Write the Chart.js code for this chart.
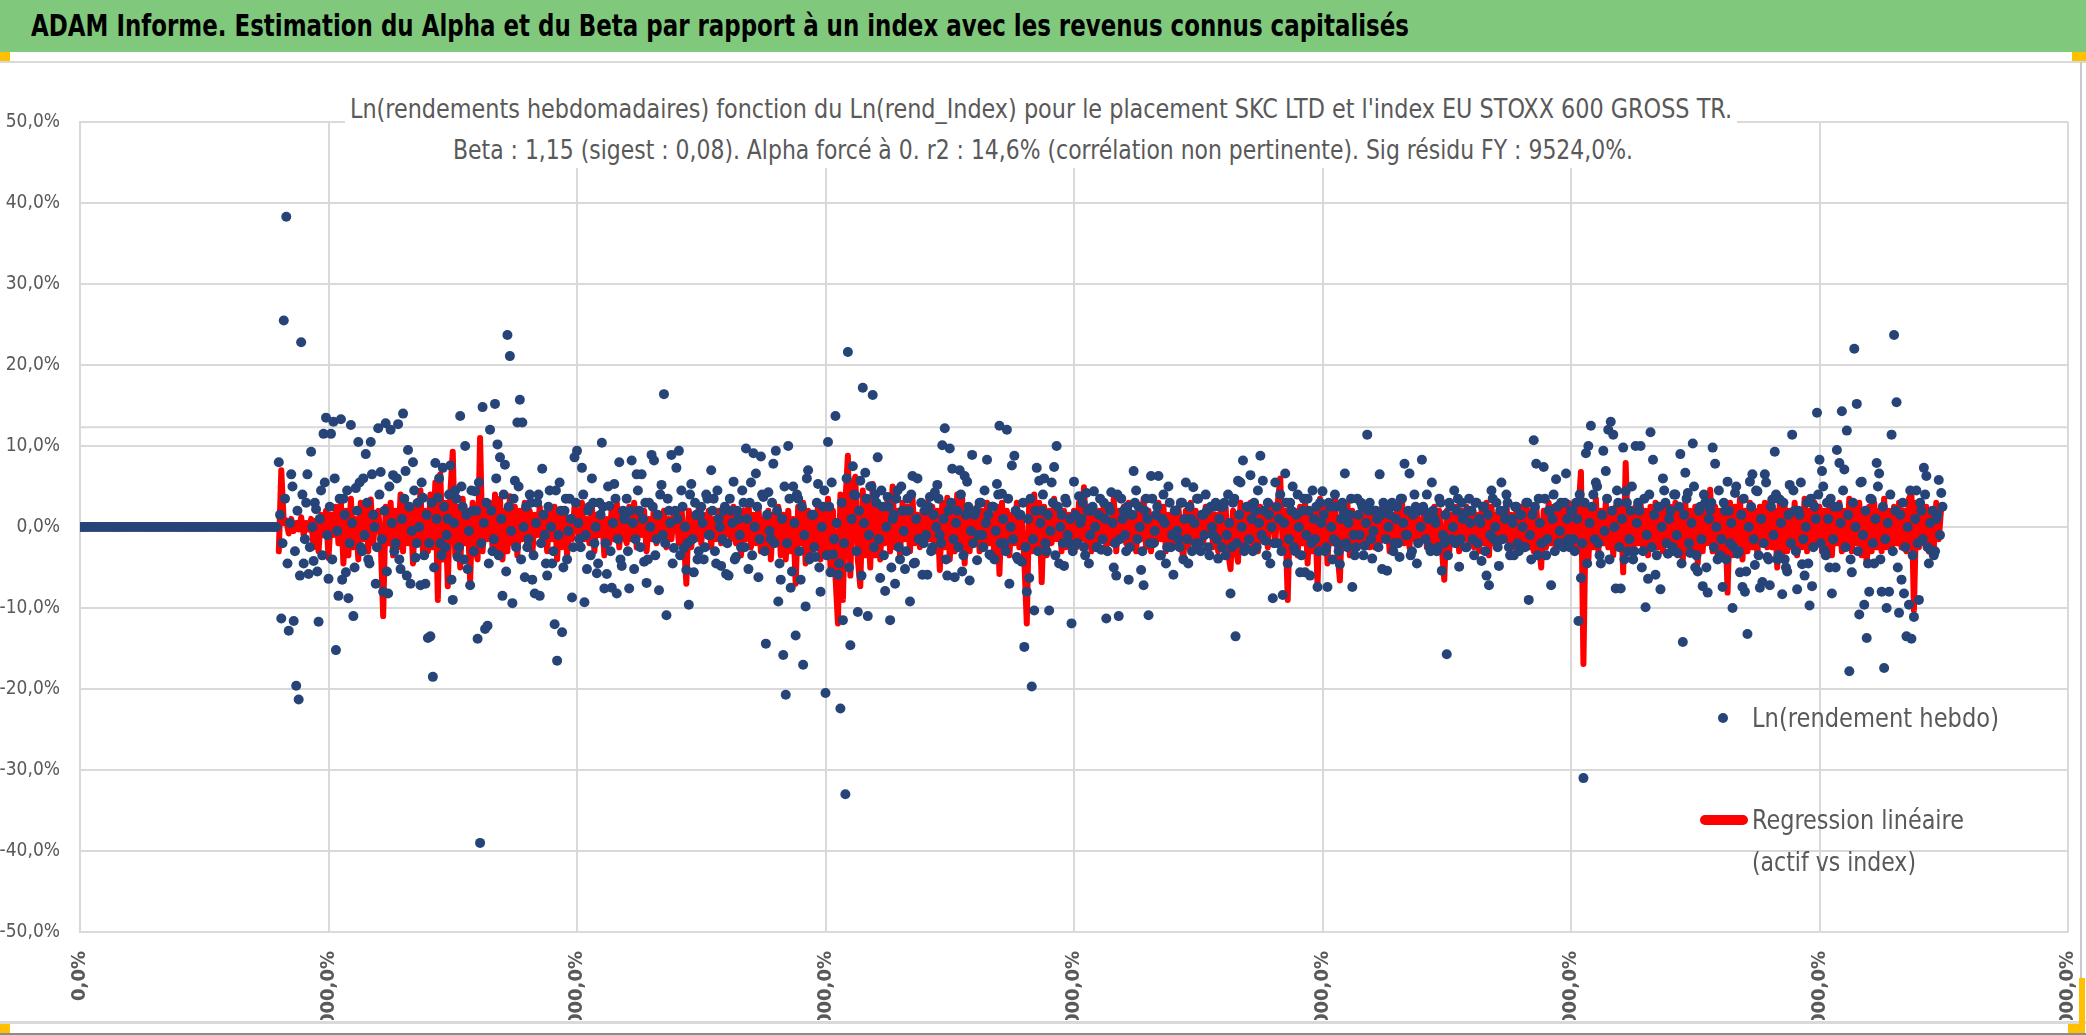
<!DOCTYPE html>
<html lang="fr">
<head>
<meta charset="utf-8">
<title>ADAM Informe - Alpha et Beta</title>
<script src="https://cdn.jsdelivr.net/npm/chart.js@4.4.1/dist/chart.umd.min.js"></script>
<style>
html, body { margin: 0; padding: 0; background: #fff; }
body {
    width: 2086px; height: 1035px; position: relative; overflow: hidden;
    font-family: "Liberation Sans Narrow", "DejaVu Sans Condensed", "Liberation Sans", sans-serif;
}
.abs { position: absolute; }
.texte { position: absolute; white-space: nowrap; line-height: 1; transform-origin: left center; display: inline-block; }
#bandeau { left: 0; top: 0; width: 2086px; height: 52px; background: #80c87c; }
.poignee { position: absolute; background: #ffc000; }
.trait { position: absolute; background: #d9d9d9; }
#cadre { position: absolute; left: 0; top: 62px; width: 2086px; height: 958px; overflow: hidden; }
#zone { position: relative; width: 2086px; height: 1000px; }
#boiteTitre { position: absolute; left: 345px; top: 86px; width: 1392px; height: 82px; background: #fff; }
.gris { color: #595959; }
</style>
</head>
<body>
<div id="bandeau" class="abs"></div>
<span id="texteBandeau" class="texte" style="left:31px; top:11px; font-size:30px; font-weight:bold; color:#000;">ADAM Informe. Estimation du Alpha et du Beta par rapport à un index avec les revenus connus capitalisés</span>
<div class="poignee" style="left:0; top:52px; width:10px; height:9px;"></div>
<div class="poignee" style="left:2072px; top:52px; width:14px; height:10px;"></div>
<div class="trait" style="left:0; top:61px; width:2086px; height:2px;"></div>

<div id="cadre"><div id="zone"><canvas id="graphique"></canvas></div></div>

<div id="boiteTitre"></div>
<span id="titre1" class="texte gris" style="left:350px; top:96px; font-size:26px;">Ln(rendements hebdomadaires) fonction du Ln(rend_Index) pour le placement SKC LTD et l'index EU STOXX 600 GROSS TR.</span>
<span id="titre2" class="texte gris" style="left:453px; top:137px; font-size:26px;">Beta : 1,15 (sigest : 0,08). Alpha forcé à 0. r2 : 14,6% (corrélation non pertinente). Sig résidu FY : 9524,0%.</span>

<div class="abs" style="left:1718px; top:713px; width:10px; height:10px; border-radius:50%; background:#264478;"></div>
<span id="legende1" class="texte gris" style="left:1752px; top:704px; font-size:27px;">Ln(rendement hebdo)</span>
<div class="abs" style="left:1700px; top:815px; width:48px; height:10px; border-radius:5px; background:#ff0000;"></div>
<span id="legende2" class="texte gris" style="left:1752px; top:806px; font-size:27px;">Regression linéaire</span>
<span id="legende3" class="texte gris" style="left:1752px; top:848px; font-size:27px;">(actif vs index)</span>

<div class="trait" style="left:2080px; top:62px; width:2px; height:960px; background:#c8c8c8;"></div>
<div class="trait" style="left:0; top:1021px; width:2086px; height:3px;"></div>
<div class="poignee" style="left:0; top:1024px; width:10px; height:9px;"></div>
<div class="poignee" style="left:2079px; top:978px; width:6px; height:55px;"></div>
<div class="poignee" style="left:2068px; top:1024px; width:17px; height:9px;"></div>
<div class="abs" style="left:0; top:1033px; width:2086px; height:2px; background:#8c8c8c;"></div>

<script>
// une valeur par semaine ; les tableaux ci-dessous séparent semaines paires et impaires (en %)
const debutCotation = 160;

// semaines avant la première cotation : rendement nul (une semaine sur deux)
const rendementsAvantCotation = [
    0, 0, 0, 0, 0, 0, 0, 0, 0, 0, 0, 0, 0, 0, 0, 0, 0, 0, 0, 0,
    0, 0, 0, 0, 0, 0, 0, 0, 0, 0, 0, 0, 0, 0, 0, 0, 0, 0, 0, 0,
    0, 0, 0, 0, 0, 0, 0, 0, 0, 0, 0, 0, 0, 0, 0, 0, 0, 0, 0, 0,
    0, 0, 0, 0, 0, 0, 0, 0, 0, 0, 0, 0, 0, 0, 0, 0, 0, 0, 0, 0
];

// Ln(rendement hebdo) du placement, semaines paires
const rendementsSemainesPaires = [
    8.0, -11.3, 25.5, 38.3, -12.8, 6.5, -11.6, -19.6, -21.3, 22.8, -4.5, 3.0, -5.8, 9.3, -4.2, 2.2, -11.7, 4.5, 11.5, 13.5,
    -6.4, 11.5, 13.0, -15.2, -8.5, 13.3, 3.5, -5.6, -8.8, 12.6, -11.0, 4.8, 10.5, -2.5, 6.0, 9.0, -4.0, 10.5, 1.5, -7.0,
    12.2, 6.8, -8.0, 12.8, -8.2, 12.0, 6.4, -2.0, 12.7, -5.2, 14.0, 6.9, 9.5, -7.0, 8.0, -3.8, 3.0, -7.2, 3.6, -7.0,
    -13.7, -13.5, -18.5, 7.9, 3.6, -2.0, 7.3, -2.5, 1.0, 7.6, -9.0, 4.5, -3.7, 13.7, 2.5, 10.0, -5.2, -7.2, 2.0, 4.4,
    -13.8, -39.0, 14.8, -12.6, -12.2, 12.0, -3.0, 15.2, 10.2, 8.6, -8.5, 7.7, 23.7, 21.1, -9.4, 5.7, 12.9, 15.7, 12.9, -6.2,
    -2.5, 4.0, -6.5, -8.2, 3.0, -8.5, 7.2, -1.0, -6.0, 4.5, -4.5, -12.0, -16.5, 5.5, -13.0, 2.0, -4.0, 3.5, -8.7, 8.6,
    9.4, -1.5, 7.3, -9.3, -5.2, 2.5, 6.0, -2.0, -5.7, 3.0, 10.4, -7.6, -5.8, 2.6, -7.5, 5.3, -8.2, 8.0, -4.8, 1.0,
    3.5, -7.6, 8.2, -5.2, 6.5, 2.0, 6.5, -4.3, -6.9, 3.0, 8.9, 8.2, -1.5, -7.8, 5.2, 16.4, -10.9, 2.0, 8.9, -2.6,
    7.3, 9.4, 4.5, -2.6, -5.3, -9.6, 5.3, -5.6, 1.5, -3.0, 2.5, -4.0, 4.0, -1.0, 7.0, 3.5, -4.5, 1.0, -4.8, 2.0,
    -5.8, -6.0, 2.0, 5.6, -3.7, 1.0, -2.5, 3.0, 9.7, -5.2, 5.5, 9.1, 6.6, -6.2, 8.7, 3.7, -14.4, 4.3, -1.5, 7.8,
    9.4, -9.2, -6.5, -15.8, -20.7, 10.0, -7.5, 5.0, -13.4, 3.5, -6.5, -17.0, -9.8, 7.0, -3.7, 1.5, -3.7, 5.3, -8.0, 2.5,
    -20.5, 10.5, -5.6, -3.4, 13.7, -5.9, -22.4, -11.5, -33.0, 21.6, -14.6, 7.5, 3.9, -10.5, 5.7, 17.2, 6.7, -11.0, 5.0, 16.3,
    4.0, 8.6, -6.3, 2.5, -7.9, 3.7, -11.5, 1.0, -7.0, 4.5, -4.0, 2.0, -5.2, 3.5, -9.2, 6.3, -4.4, 6.0, -1.5, -5.9,
    2.0, -5.9, 3.7, -2.5, 4.3, 5.2, -1.0, 10.1, 12.2, -6.0, 9.7, 7.2, -6.2, 2.0, 7.0, -5.5, 6.3, 5.6, -6.6, 8.9,
    1.5, -4.1, 3.0, -1.0, 4.5, 8.3, -3.4, 2.5, -4.0, 5.3, 12.5, 4.1, -2.0, 12.0, -7.0, 7.6, 8.8, -3.7, 1.5, -4.3,
    -14.8, -8.0, -6.3, -19.7, -10.3, 7.3, 5.7, 2.0, 6.0, -3.0, -10.3, 5.5, 7.4, 10.0, -4.5, 1.5, -4.8, 3.0, -2.0, -11.9,
    5.6, -2.0, 3.8, 1.0, -2.5, 4.2, -4.5, 2.0, 4.4, -2.5, 1.5, -2.8, 3.0, -11.3, 2.5, 4.3, -5.0, -6.0, -11.0, 3.5,
    2.0, -3.0, -6.5, 1.5, 6.9, 4.5, 2.5, -5.3, -7.2, 3.5, -10.9, 6.3, -2.0, 1.5, 6.3, -3.5, 4.0, -4.5, 5.0, -2.5,
    -5.9, 2.0, -1.5, 3.0, -4.0, 5.5, -4.5, 1.0, 4.9, -2.0, 3.5, -3.0, 1.5, 4.0, -2.5, 2.5, -1.0, 3.0, -3.9, 2.5,
    2.5, -3.5, 4.0, -8.2, 3.0, -13.5, 5.7, 5.5, 8.2, -2.5, 2.5, 6.4, -3.0, 2.0, 4.5, 8.8, 5.7, -1.7, 3.0, -4.5,
    -8.8, 5.5, -2.0, 4.0, -8.4, 6.6, -4.5, 3.0, 5.0, -3.0, 4.0, -5.6, 2.0, -5.6, 3.5, -6.0, 4.5, -1.5, -7.4, 3.0,
    4.4, -3.0, -7.4, 2.5, -4.0, 4.0, -2.0, -4.6, 3.0, 6.6, -2.5, 1.5, -7.4, -3.5, 3.5, -1.0, 2.5, -2.3, 11.4, 3.0,
    -3.9, 2.0, 1.0, 6.5, -5.2, 2.5, -5.4, 1.5, 3.0, -2.0, 2.5, -3.7, 3.5, 7.8, -1.0, 6.6, -3.0, 4.0, -4.5, 2.0,
    8.3, 2.0, 4.0, -2.5, 5.5, 1.0, -3.0, 3.5, -5.4, -2.0, -15.7, 3.0, -1.5, 4.5, 2.0, -4.9, 3.0, 1.5, -2.5, 3.5,
    2.0, -3.5, 3.0, 1.0, -4.2, 2.5, -6.0, -7.2, 4.5, -1.5, 3.0, -4.8, 5.5, 2.0, 4.0, -2.5, 1.0, -3.5, 2.5, -3.0,
    1.5, -2.5, 3.0, -9.0, -4.0, 10.7, 7.8, 3.5, -2.0, 7.4, -3.5, 2.0, -7.2, 4.0, 5.9, -2.0, 3.0, -2.5, 6.6, -1.5,
    2.0, -1.5, 3.0, -11.6, -6.3, -31.0, 9.1, 10.0, 12.5, 4.0, 5.5, -2.0, -4.5, 9.4, 6.9, 12.0, 13.0, 11.4, -7.6, 3.0,
    -7.6, 9.8, 4.4, -3.0, 2.0, -4.0, 10.0, 3.0, 10.0, -3.0, -9.9, -6.4, 11.7, 8.3, -5.9, 2.5, -7.7, 6.0, 3.0, -3.3,
    2.0, -2.5, 4.0, -3.2, 9.0, -14.2, 6.7, 4.2, -3.2, 10.3, -5.0, -5.5, 2.5, -7.3, 3.0, -8.1, 2.1, 9.8, 7.8, -4.0,
    -3.5, -7.4, 2.0, 5.6, -2.0, -10.0, 4.2, -3.3, -5.6, -7.4, -8.0, -13.2, 5.6, 6.5, -4.7, 4.4, -7.5, -6.8, 6.5, -3.7,
    -7.2, 3.4, 9.3, -4.0, 3.4, -8.3, -4.0, -5.5, 5.2, 11.4, 2.0, -7.7, 1.5, -4.6, -6.0, 3.0, -9.7, -7.3, 2.5, 14.1,
    8.3, 6.9, -2.9, 3.0, -5.0, -8.2, 2.5, 9.5, 7.9, 14.3, 7.1, 11.9, -17.8, -5.6, 22.0, 15.2, -10.8, 5.6, -9.6, -13.7,
    -8.0, 3.4, -4.5, 7.9, 6.6, -8.0, -17.4, -10.0, -8.0, 11.4, 23.7, 15.4, -10.6, -6.5, -8.2, -13.5, -9.6, -13.8, -11.1, 4.5,
    -9.0, 2.0, 7.3, 6.3, -4.5, -2.9, -3.5, 1.0, 5.8, 4.2
];

// Ln(rendement hebdo) du placement, semaines impaires
const rendementsSemainesImpaires = [
    1.5, -2.0, 3.5, -4.5, 0.5, 5.0, -3.0, 2.0, -6.0, 4.0, -1.5, 6.5, -2.5, 0.0, 3.0, -5.5, 1.0, -3.5, 5.5, -1.0,
    2.5, -4.0, 6.0, -0.5, 3.5, -6.5, 1.5, 4.5, -2.0, 0.5, -5.0, 2.0, 5.5, -3.0, -1.0, 3.0, -4.5, 6.5, 0.0, -2.5,
    4.0, -1.5, 2.0, -5.5, 5.0, 0.5, -3.0, 6.0, -4.0, 1.0, 3.5, -6.0, 2.5, -0.5, 4.5, -2.0, 0.0, 5.5, -3.5, 1.5,
    -2.0, 3.0, -5.0, 1.0, 6.0, -3.5, 2.5, -1.0, 4.0, -6.5, 0.5, 3.5, -2.5, 5.0, -4.0, 1.5, -0.5, 4.5, -3.0, 2.0,
    5.5, -2.0, 0.5, 3.0, -4.5, 2.0, -1.5, 6.0, -3.5, 1.0, 4.0, -5.5, 2.5, -0.5, 3.5, -2.5, 5.0, -4.0, 0.0, 2.5,
    -1.5, 3.0, -3.5, 0.5, 4.0, -2.0, 1.5, -4.5, 2.5, 0.0, -3.0, 4.5, -1.0, 2.0, -5.0, 3.5, -0.5, 1.0, -2.5, 3.0,
    0.5, -2.5, 4.0, -1.0, 2.0, -3.5, 3.0, 0.0, -4.5, 1.5, 2.5, -2.0, 5.0, -3.0, 0.5, 3.5, -1.5, -4.0, 2.0, 1.0,
    -3.0, 2.0, 0.5, -1.5, 4.5, -2.5, 1.0, 3.0, -4.0, 0.0, 2.5, -3.5, 1.5, 4.0, -1.0, -2.0, 3.5, 0.5, -4.5, 2.0,
    1.0, -3.5, 2.5, 0.0, -2.0, 4.0, -1.5, 3.0, -4.0, 1.5, 0.5, -2.5, 3.5, -1.0, 2.0, -3.0, 4.5, 0.0, -1.5, 2.5,
    -2.0, 3.5, 0.5, -4.0, 2.0, -1.0, 4.5, -2.5, 1.0, 3.0, -3.5, 0.0, 2.5, -1.5, 4.0, -3.0, 1.5, -0.5, 3.0, -2.0,
    2.0, -4.5, 1.0, 5.0, -2.0, 3.5, -5.5, 0.5, 4.0, -3.0, 2.5, -1.0, 6.0, -4.0, 1.5, -2.5, 3.0, -5.0, 0.0, 4.5,
    -3.5, 2.5, 5.5, -1.5, 0.5, -4.5, 3.0, -2.0, 6.0, -5.0, 1.0, 4.0, -3.0, 2.0, -6.0, 0.5, 3.5, -1.0, 5.0, -2.5,
    3.0, -1.5, 4.5, -3.5, 0.0, 2.5, -5.0, 1.5, 3.5, -2.5, 5.0, -0.5, -3.0, 2.0, 4.0, -4.5, 1.0, -1.5, 3.0, -2.0,
    -1.0, 2.5, -3.0, 1.5, 0.0, 3.5, -2.0, 1.0, -4.0, 2.0, 3.0, -1.5, 0.5, -2.5, 4.0, -3.5, 1.5, 2.5, -0.5, -2.0,
    2.0, -1.0, 3.0, -2.5, 0.5, 1.5, -3.5, 2.5, -0.5, 4.0, -2.0, 1.0, -3.0, 3.5, 0.0, -1.5, 2.0, -4.0, 1.5, 3.0,
    -2.5, 1.0, 3.5, -1.5, 2.0, -3.0, 0.5, 4.0, -2.0, 1.5, -0.5, 3.0, -3.5, 2.5, 0.0, -2.0, 3.5, -1.0, 1.0, -3.0,
    1.5, -2.0, 0.5, 3.0, -3.5, 2.0, -1.0, 2.5, 0.0, -2.5, 3.5, -1.5, 1.0, -3.0, 2.0, 0.5, -2.0, 4.0, -1.5, 1.0,
    -1.0, 2.5, -2.5, 1.5, 3.0, -1.5, 0.0, -3.0, 2.0, 1.0, -2.0, 3.5, -0.5, 2.5, -3.5, 1.0, 0.5, -2.5, 3.0, -1.0,
    2.0, -0.5, -2.5, 3.0, 1.0, -1.5, 2.5, -3.0, 0.5, 3.5, -2.0, 1.5, -1.0, 2.0, -3.5, 0.0, 2.5, -1.5, 1.0, -2.5,
    3.0, -1.0, 0.5, -2.5, 3.5, -2.0, 1.5, 0.0, -3.0, 2.5, -1.5, 1.0, 3.0, -2.5, 0.5, -1.0, 2.0, -3.5, 1.5, 0.0,
    -2.0, 2.5, 1.0, -3.0, 0.5, 3.0, -1.5, 2.0, -2.5, 1.5, 0.0, -3.5, 3.5, -1.0, 2.0, -2.0, 1.0, 2.5, -3.0, 0.5,
    1.5, -2.5, 3.0, 0.0, -1.5, 2.5, -3.0, 1.0, 2.0, -2.0, 0.5, 3.5, -1.0, -2.5, 1.5, 3.0, -3.5, 0.5, 2.0, -1.5,
    -0.5, 2.0, -2.5, 1.5, 3.0, -1.5, 0.0, 2.5, -3.0, 1.0, -2.0, 3.5, 0.5, -1.0, 2.0, -3.5, 1.5, 2.5, -2.0, 0.0,
    2.5, -1.5, 1.0, -3.0, 2.0, 0.5, -2.5, 3.0, -1.0, 1.5, -3.5, 2.5, 0.0, -2.0, 3.5, -1.5, 1.0, -2.5, 2.0, 0.5,
    -1.5, 3.0, -2.0, 0.5, 2.5, -3.0, 1.5, -1.0, 3.5, 0.0, -2.5, 2.0, -1.5, 1.0, 3.0, -3.5, 0.5, 2.5, -2.0, 1.5,
    0.0, -2.5, 3.0, -1.0, 1.5, 2.5, -3.5, 0.5, -2.0, 3.5, -1.5, 2.0, 1.0, -3.0, 2.5, -0.5, -2.0, 3.0, 1.0, -2.5,
    2.0, -3.0, 1.0, 4.0, -2.0, 3.0, -4.5, 0.5, 2.5, -1.5, 5.0, -3.5, 1.5, -0.5, 3.5, -4.0, 2.0, 0.0, 4.5, -2.5,
    1.0, -4.0, 3.0, -1.5, 5.0, -3.0, 0.5, 2.0, -5.0, 3.5, -1.0, 4.0, -2.5, 1.5, -3.5, 2.5, 0.0, 4.5, -2.0, 1.0,
    -3.0, 4.0, -1.0, 2.5, -4.5, 1.5, 3.5, -2.0, 0.5, 5.0, -3.5, 2.0, -1.5, 4.0, -5.0, 1.0, 3.0, -2.5, 0.0, 4.5,
    -1.5, 3.0, -4.0, 2.0, 0.5, -2.5, 5.0, -3.0, 1.5, 3.5, -5.5, 0.0, 2.5, -1.5, 4.5, -3.5, 1.0, -2.0, 5.5, -4.0,
    2.5, -1.0, 4.0, -3.5, 0.5, 3.0, -5.0, 1.5, -2.0, 4.5, -3.0, 2.0, 5.5, -1.5, 0.0, -4.5, 3.5, -2.5, 1.0, 4.0,
    -2.0, 5.0, -3.5, 1.0, 3.5, -1.5, -5.0, 2.5, 0.5, 4.5, -2.5, 1.5, -4.0, 3.0, 0.0, -3.0, 5.5, -1.0, 2.0, -4.5,
    3.5, -2.0, 1.0, 5.0, -4.0, 2.5, -1.5, 0.5, 4.0, -3.0, 2.0, -5.0, 1.5, 3.0, -2.5, 0.0, 4.5, -3.5, 1.0, -2.0,
    3.0, -1.5, 4.0, -2.5, 0.5, 2.0, -3.0, 1.5, -1.0, 2.5
];

// Regression linéaire : beta x Ln(rend_Index), semaines paires, en %
const regressionIndex = [
    -3.0, 7.0, 0.5, 0.8, -0.8, 1.0, -0.5, 0.5, -0.3, 1.2, -1.0, 0.5, -0.3, 1.0, -2.5, 0.8, -3.0, 1.5, -1.0, 2.0,
    -3.8, 1.5, -1.0, 2.5, -2.0, 3.0, -4.5, 2.0, -3.5, 3.5, -2.5, 1.0, -4.0, 3.0, -1.5, 2.5, -3.0, 3.4, -2.0, 1.5,
    2.0, -1.5, -11.0, 2.5, -2.0, 3.0, -3.5, 2.0, -2.5, 4.0, -3.0, 3.5, -2.0, 2.5, -4.5, 3.0, -1.5, 4.5, -3.0, 2.0,
    -3.0, 4.0, -2.5, 5.5, -9.0, 6.5, -4.0, 3.0, -7.3, 4.0, 9.3, -3.5, 2.5, -5.0, 3.5, -2.0, 2.0, -6.7, 3.0, -2.5,
    -4.0, 11.0, -3.0, 2.5, -1.5, 3.0, -2.5, 4.0, -3.5, 3.5, -4.0, 2.0, -3.0, 3.8, -2.0, 2.5, -3.5, 2.0, -1.5, 3.0,
    -2.5, 2.0, -3.5, 1.5, -1.0, 2.5, -2.0, 1.0, -3.0, 2.0, -1.5, 2.5, -4.0, 1.5, -2.5, 2.0, -3.5, 1.0, -1.5, 2.5,
    2.0, -2.5, 3.0, -1.5, 1.0, -2.0, 2.5, -3.0, 1.5, -1.0, 2.0, -3.5, 1.0, -2.0, 2.5, -1.5, 3.0, -2.5, 1.5, -1.0,
    -2.0, 2.5, -1.5, 3.0, -2.5, 1.5, -1.0, 2.0, -3.0, 1.0, -1.5, 2.5, -2.0, 1.5, -1.0, 2.0, -2.5, 1.0, -1.5, 2.0,
    1.5, -2.0, 2.5, -1.5, -7.0, 2.0, -2.5, 1.0, -1.5, 2.5, -2.0, 1.5, -1.0, 2.0, -2.5, 1.0, -1.5, 2.0, -2.0, 1.5,
    -1.0, 2.0, -1.5, 2.5, -2.0, 1.0, -3.5, 2.0, -1.5, 3.0, -2.5, 1.5, -2.0, 2.5, -3.0, 1.0, -2.5, 2.0, -4.0, 1.5,
    -2.0, 2.5, -3.5, 1.5, -4.0, 2.0, -3.0, 1.0, -7.0, 2.5, -2.0, 3.0, -4.5, 2.0, -3.5, 1.5, -2.5, 3.0, -4.0, 2.0,
    -3.0, 3.5, -5.0, 2.0, -6.0, -11.9, 4.0, -9.0, 3.0, 8.8, -6.0, 5.0, 6.2, -4.0, -7.3, 4.5, -3.5, 3.0, -5.0, 5.3,
    -3.5, 3.0, -4.0, 2.5, -2.0, 3.5, -3.0, 5.0, -2.5, 2.0, -3.5, 3.0, -1.5, 2.5, -3.0, 3.6, -2.0, 1.5, -2.5, 2.0,
    -2.0, 3.0, -1.5, 2.5, -3.0, 2.0, -5.3, 3.0, -2.5, 3.6, -4.0, 2.5, -3.0, 4.0, -2.0, 3.5, -4.5, 2.5, -3.0, 2.0,
    -1.5, 2.5, -3.0, 2.0, -2.5, 3.0, -2.0, 1.5, -4.0, 2.5, -5.8, 3.0, -2.5, 2.0, -3.5, 1.5, -2.0, 3.0, -2.5, 1.0,
    -4.0, -11.9, 3.5, -3.0, 4.0, -2.5, 3.0, -6.8, 2.5, -3.5, 2.0, -2.0, 3.5, -1.5, 2.5, -3.0, 2.0, -2.5, 1.5, -2.0,
    2.0, -2.5, 3.0, -1.5, 4.9, -2.0, 2.5, -3.0, 1.5, -2.5, 2.0, -1.5, 3.0, -2.5, 1.0, -2.0, 3.5, -3.0, 2.0, -1.5,
    2.5, -2.0, 3.0, -2.5, 1.5, -3.0, 2.0, -1.5, 3.5, -2.5, 2.0, -3.0, 1.5, -2.0, 3.0, -1.5, 2.5, -3.0, 1.5, -2.0,
    1.5, -2.0, 2.5, -1.5, -4.0, 2.0, -2.5, 3.0, -1.5, 2.0, -3.0, 1.5, -2.0, 2.5, -1.0, 2.0, -2.5, 1.5, -3.0, 2.0,
    -2.0, 2.5, -3.0, -5.2, 2.0, -2.5, -4.3, 3.0, -2.0, 2.5, -1.5, 3.0, -2.5, 2.0, -3.0, 2.5, -1.5, 2.0, -2.5, 3.0,
    2.5, -2.0, 3.0, 6.0, -2.5, 2.0, -9.0, 3.0, -2.5, 2.0, -3.5, 2.5, -2.0, 3.0, -4.5, 2.0, -3.0, 2.5, -7.3, 3.5,
    -2.0, 3.0, -4.5, 2.5, -2.0, 3.5, -3.0, -6.6, 2.5, -2.0, 3.0, -3.5, 2.0, -2.5, 1.5, -2.0, 2.5, -1.5, 2.0, -2.5,
    2.0, -2.5, 1.5, -2.0, 2.5, -1.5, 2.0, -3.0, 1.5, -2.5, 2.0, -1.5, 3.0, -2.0, 1.5, -2.5, 2.0, -1.5, 2.5, -2.0,
    -1.5, 2.0, -2.5, 1.5, -2.0, 2.5, -3.0, 2.0, -2.5, -6.5, 2.0, -3.0, 1.5, -2.0, 2.5, -3.0, 2.0, -1.5, 2.5, -2.0,
    2.0, -2.5, 1.5, -3.0, 2.0, -2.0, 3.0, -3.5, 2.5, -2.0, 1.5, -2.5, 2.0, -1.5, 3.0, -2.0, 1.5, -2.5, 2.0, -3.0,
    2.5, -2.0, 3.0, -2.5, 2.0, -3.0, 2.5, -1.5, -5.0, 2.0, -2.5, 3.0, -2.0, 2.5, -3.0, 2.0, -1.5, 2.5, -2.0, 3.0,
    -2.0, 2.5, -3.0, 2.0, 6.8, -16.9, 3.0, -4.0, 2.5, -2.5, 3.5, -3.0, 2.0, -2.0, 3.0, -2.5, 2.0, -3.5, 2.5, -2.0,
    3.0, -5.6, 7.9, -2.5, 2.0, -3.0, 2.5, -2.0, 3.0, -2.5, 2.0, -3.5, 2.5, -2.0, 3.0, -2.5, 2.0, -3.0, 2.5, -2.0,
    2.5, -2.0, 3.0, -3.5, 2.0, -4.0, 3.0, -2.5, 2.0, -3.0, 2.5, -4.5, 2.0, -3.0, 2.5, -2.0, 4.6, -3.0, 2.5, -3.5,
    2.0, -3.0, 2.5, -8.1, 3.0, -3.5, 2.5, -2.0, 3.5, -4.0, 2.0, -3.0, 3.0, -2.5, 2.0, -3.5, 2.5, -2.0, 3.0, -2.5,
    3.0, -2.5, 2.0, -5.0, 3.0, -3.5, 2.5, -3.0, 2.0, -2.5, 3.0, -3.5, 2.0, -2.5, 3.5, -3.0, 2.0, -2.5, 3.0, -2.0,
    2.5, -3.0, 2.0, -2.5, 3.0, -3.5, 2.5, -2.0, 3.0, -3.0, 2.0, -2.5, 3.5, -3.0, 2.5, -2.0, 3.0, -3.5, 2.0, -4.7,
    2.5, -3.0, 3.0, -2.5, 2.0, -3.0, 3.5, -2.5, 2.0, -3.0, 2.5, -2.0, 3.0, -2.5, 2.0, -3.0, 3.5, 4.2, -10.3, 3.0,
    -2.5, 3.0, -2.0, 2.5, -3.0, 2.0, -2.5, 3.0, -1.5, 2.5
];

// trait horizontal gris visible vers 12,3 %
const niveauRepere = 12.3;

const xMin = 0;
const xMax = 1600;
const xPas = 200;

const police = '"Liberation Sans Narrow", "DejaVu Sans Condensed", "Liberation Sans", sans-serif';
const grisTexte = '#595959';
const grisGrille = '#d9d9d9';

function formatPourcent(v) {
    return (v * 100).toFixed(1).replace('.', ',') + '%';
}

function ajusterLargeur(id, largeur) {
    const el = document.getElementById(id);
    const w = el.getBoundingClientRect().width;
    if (w > 0) el.style.transform = 'scaleX(' + (largeur / w) + ')';
}

function construirePoints() {
    const rendement = [];
    rendementsAvantCotation.forEach((r, i) => rendement.push({ x: i * 2, y: r / 100 }));
    rendementsSemainesPaires.forEach((r, i) => {
        rendement.push({ x: debutCotation + i * 2, y: r / 100 });
        rendement.push({ x: debutCotation + i * 2 + 1, y: rendementsSemainesImpaires[i] / 100 });
    });
    const regression = regressionIndex.map((r, i) => ({ x: debutCotation + i * 2, y: r / 100 }));
    const repere = [{ x: xMin, y: niveauRepere / 100 }, { x: xMax, y: niveauRepere / 100 }];
    return [rendement, regression, repere];
}

function tracer() {
    const ctx = document.getElementById('graphique').getContext('2d');
    const [rendement, regression, repere] = construirePoints();

    window.graphiqueBeta = new Chart(ctx, {
        type: 'scatter',
        data: {
            datasets: [
                {
                    label: 'Ln(rendement hebdo)',
                    data: rendement,
                    backgroundColor: '#264478',
                    borderWidth: 0,
                    pointRadius: 5,
                    order: 0
                },
                {
                    type: 'line',
                    label: 'Regression linéaire (actif vs index)',
                    data: regression,
                    borderColor: '#ff0000',
                    borderWidth: 6,
                    borderJoinStyle: 'round',
                    borderCapStyle: 'round',
                    pointRadius: 0,
                    tension: 0,
                    fill: false,
                    order: 1
                },
                {
                    type: 'line',
                    label: 'repère',
                    data: repere,
                    borderColor: grisGrille,
                    borderWidth: 2,
                    pointRadius: 0,
                    fill: false,
                    order: 2
                }
            ]
        },
        options: {
            animation: false,
            responsive: true,
            maintainAspectRatio: false,
            events: [],
            layout: { padding: { top: 60, right: 18, left: 0, bottom: 0 } },
            plugins: {
                legend: { display: false },
                tooltip: { enabled: false }
            },
            scales: {
                x: {
                    type: 'linear',
                    min: xMin,
                    max: xMax,
                    afterFit: (s) => { s.height = 130; s.paddingRight = 0; s.paddingLeft = 0; },
                    ticks: {
                        stepSize: xPas,
                        autoSkip: false,
                        minRotation: 90,
                        maxRotation: 90,
                        padding: 19,
                        color: grisTexte,
                        font: { family: police, size: 20, weight: 'bold' },
                        callback: (v) => formatPourcent(v)
                    },
                    grid: { color: grisGrille, lineWidth: 2, drawTicks: false },
                    border: { color: grisGrille, width: 2 }
                },
                y: {
                    min: -0.5,
                    max: 0.5,
                    afterFit: (s) => { s.width = 80; },
                    ticks: {
                        stepSize: 0.1,
                        padding: 20,
                        color: grisTexte,
                        font: { family: police, size: 19 },
                        callback: (v) => formatPourcent(v)
                    },
                    grid: { color: grisGrille, lineWidth: 2, drawTicks: false },
                    border: { color: grisGrille, width: 2 }
                }
            }
        }
    });
}

function main() {
    ajusterLargeur('texteBandeau', 1378);
    ajusterLargeur('titre1', 1382);
    ajusterLargeur('titre2', 1180);
    ajusterLargeur('legende1', 247);
    ajusterLargeur('legende2', 212);
    ajusterLargeur('legende3', 164);
    tracer();
}

window.addEventListener('DOMContentLoaded', main);
</script>
</body>
</html>
